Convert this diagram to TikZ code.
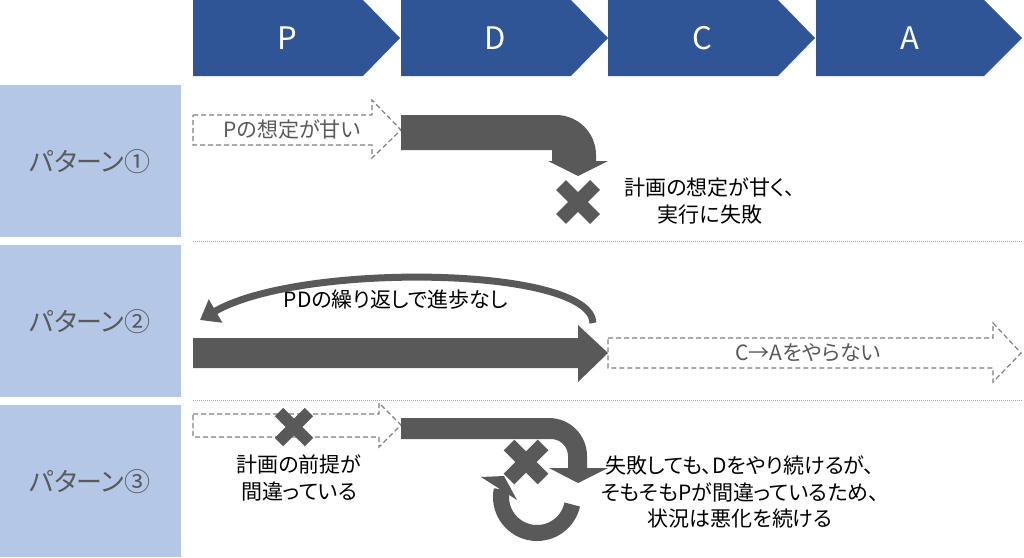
\documentclass[tikz,border=0pt]{standalone}
\usepackage{fontspec}
\setmainfont{Noto Sans CJK JP}[RawFeature={+palt}]
\usetikzlibrary{arrows.meta,calc}
\definecolor{hdr}{HTML}{2F5597}
\definecolor{lbl}{HTML}{B4C7E7}
\definecolor{dk}{HTML}{595959}
\definecolor{dsh}{HTML}{7F7F7F}
\definecolor{gtxt}{HTML}{595959}
\definecolor{sep}{HTML}{A6A6A6}
\tikzset{
  hdrshape/.style={fill=hdr, draw=none},
  hdrtxt/.style={text=white, font=\fontsize{31}{31}\selectfont, inner sep=0pt},
  lblbox/.style={fill=lbl, draw=none},
  lbltxt/.style={text=dk, font=\fontsize{26}{26}\selectfont, inner sep=0pt},
  hollow/.style={draw=dsh, dash pattern=on 5pt off 3pt, line width=1.2pt, fill=white},
  solid/.style={fill=dk, draw=none},
  txt/.style={text=black, font=\fontsize{21}{26.5}\selectfont, align=center, inner sep=0pt},
  gtx/.style={text=gtxt, font=\fontsize{21}{26}\selectfont, inner sep=0pt},
  xmark/.style={draw=dk, line width=#1, line cap=butt},
  sepline/.style={draw=sep, line width=0.8pt, dash pattern=on 1pt off 1pt}
}
\begin{document}
\begin{tikzpicture}[x=1pt,y=1pt]
\useasboundingbox (0,0) rectangle (1024,-557);
% header chevrons
\fill[hdrshape] (193,0) -- (363,0) -- (400,-38) -- (363,-76) -- (193,-76) -- cycle;
\fill[hdrshape] (401,0) -- (571,0) -- (608,-38) -- (571,-76) -- (401,-76) -- cycle;
\fill[hdrshape] (608,0) -- (778,0) -- (815,-38) -- (778,-76) -- (608,-76) -- cycle;
\fill[hdrshape] (816,0) -- (984,0) -- (1022,-38) -- (984,-76) -- (816,-76) -- cycle;
\node[hdrtxt] (hP) at (287,-38) {P};
\node[hdrtxt] (hD) at (495,-38) {D};
\node[hdrtxt] (hC) at (702,-38) {C};
\node[hdrtxt] (hA) at (910,-38) {A};
% label boxes
\fill[lblbox] (0,-85) rectangle (181,-237);
\fill[lblbox] (0,-245) rectangle (181,-397);
\fill[lblbox] (0,-405) rectangle (181,-557);
\node[lbltxt] (l1) at (90,-162) {パターン①};
\node[lbltxt] (l2) at (90,-322) {パターン②};
\node[lbltxt] (l3) at (90,-482) {パターン③};
% separators
\draw[sepline] (193,-241) -- (1022,-241);
\draw[sepline] (193,-400) -- (1022,-400);
% ---- pattern 1
\draw[hollow] (193,-115) -- (372,-115) -- (372,-100) -- (401,-130) -- (372,-158) -- (372,-145) -- (193,-145) -- cycle;
\node[gtx] (p1a) at (292,-130) {Pの想定が甘い};
\fill[solid] (401,-115) -- (556,-115) arc[start angle=90, end angle=0, radius=40pt] -- (596,-161) -- (608,-161) -- (578,-176) -- (548,-161) -- (552,-161) -- (552,-150) -- (401,-150) -- cycle;
\coordinate (x1) at (578,-202);
\draw[xmark=14pt] ($(x1)+(-17,17)$) -- ($(x1)+(17,-17)$);
\draw[xmark=14pt] ($(x1)+(-17,-17)$) -- ($(x1)+(17,17)$);
\node[txt] (t1) at (710,-201) {計画の想定が甘く、\\実行に失敗};
% ---- pattern 2
\coordinate (c2a) at (593,-323);
\coordinate (c2b) at (200,-320);
\draw[dk, line width=7pt, -{Triangle[length=18pt,width=26pt]}] (c2a) .. controls (591,-266) and (300,-262) .. (c2b);
\node[txt] (t2) at (396,-300) {PDの繰り返しで進歩なし};
\fill[solid] (193,-338) -- (578,-338) -- (578,-325) -- (608,-353) -- (578,-382) -- (578,-368) -- (193,-368) -- cycle;
\draw[hollow] (608,-338) -- (993,-338) -- (993,-323) -- (1021,-353) -- (993,-382) -- (993,-368) -- (608,-368) -- cycle;
\node[gtx] (p2a) at (808,-353) {C→Aをやらない};
% ---- pattern 3
\draw[hollow] (193,-414) -- (379,-414) -- (379,-403) -- (401,-425) -- (379,-447) -- (379,-437) -- (193,-437) -- cycle;
\coordinate (x2) at (294,-427);
\draw[xmark=12pt] ($(x2)+(-15,15)$) -- ($(x2)+(15,-15)$);
\draw[xmark=12pt] ($(x2)+(-15,-15)$) -- ($(x2)+(15,15)$);
\node[txt] (t3a) at (299,-478) {計画の前提が\\間違っている};
\fill[solid] (401,-418) -- (549,-418) arc[start angle=90, end angle=0, radius=38pt] -- (587,-468) -- (608,-468) -- (578,-483) -- (549,-468) -- (568,-468) -- (568,-456) arc[start angle=0, end angle=90, radius=17pt] -- (401,-439) -- cycle;
\coordinate (x3) at (526,-462);
\draw[xmark=15pt] ($(x3)+(-17,17)$) -- ($(x3)+(17,-17)$);
\draw[xmark=15pt] ($(x3)+(-17,-17)$) -- ($(x3)+(17,17)$);
\coordinate (rc) at (537,-497);
\draw[dk, line width=16pt] ($(rc)+(-12:36pt)$) arc[start angle=-12, end angle=-192, radius=36pt];
\fill[solid] (481,-477) -- (504,-476) -- (517,-500) -- cycle;
\node[txt] (t3b) at (740,-492) {失敗しても、Dをやり続けるが、\\そもそもPが間違っているため、\\状況は悪化を続ける};
\end{tikzpicture}
\end{document}
